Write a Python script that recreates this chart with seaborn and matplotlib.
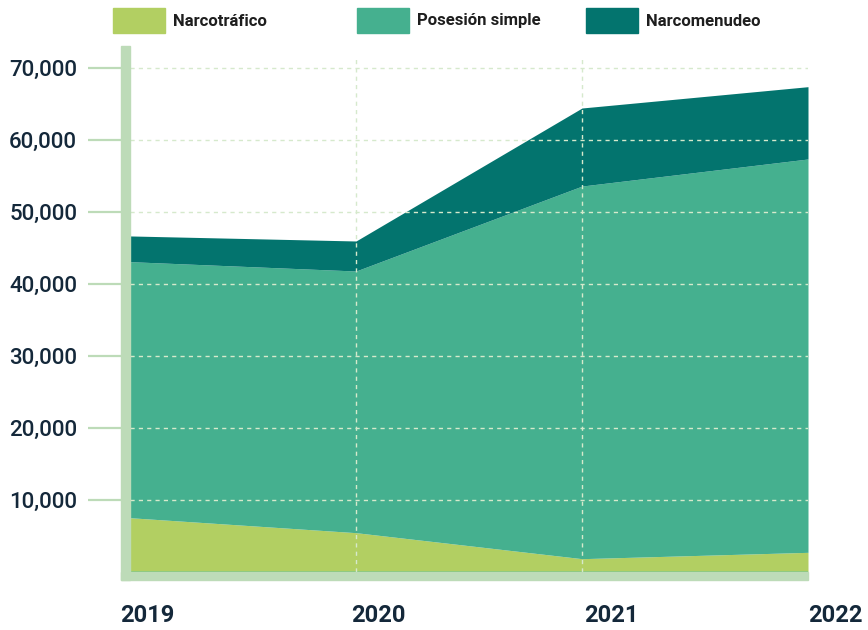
import matplotlib
matplotlib.use("Agg")
import matplotlib.pyplot as plt
from matplotlib.patches import Rectangle
import seaborn as sns
import pandas as pd

years = [2019, 2020, 2021, 2022]
narcotrafico = [7540, 5460, 1850, 2730]
posesion_simple = [35560, 36340, 51750, 54630]
narcomenudeo = [3570, 4170, 10840, 10040]
series_names = ["Narcotráfico", "Posesión simple", "Narcomenudeo"]
colors = ["#b2cf62", "#45b08f", "#03746e"]
y_ticks = [10000, 20000, 30000, 40000, 50000, 60000, 70000]

df = pd.DataFrame({"year": years, "Narcotráfico": narcotrafico,
                   "Posesión simple": posesion_simple, "Narcomenudeo": narcomenudeo})

sns.set_theme(style="white")
plt.rcParams["font.family"] = ["Roboto", "DejaVu Sans"]

W, H = 868, 630
fig = plt.figure(figsize=(W / 100, H / 100), dpi=100)
fig.patch.set_facecolor("white")

def fx(px):
    return px / W

def fy(py):
    return 1 - py / H

left, right, top, bottom = 130, 808, 46, 572
ax = fig.add_axes([fx(left), fy(bottom), fx(right - left), (bottom - top) / H])

ax.stackplot(df["year"], df["Narcotráfico"], df["Posesión simple"], df["Narcomenudeo"],
             colors=colors, linewidth=0, zorder=1)
# thin baseline
sns.lineplot(x=df["year"], y=[0] * len(years), ax=ax, color="#7cc47a", linewidth=1.2, zorder=2)

ax.set_xlim(2019, 2022)
ax.set_ylim(0, 73050)
ax.set_axisbelow(False)
ax.grid(True, axis="y", linestyle=(0, (3, 3)), color="#d6e9cc", linewidth=1.0, zorder=2.5)
for yv in years[1:3]:
    ax.plot([yv, yv], [0, 71300], linestyle=(0, (3, 3)), color="#d6e9cc", linewidth=1.0, zorder=2.5)
ax.set_xticks(years)
ax.set_yticks(y_ticks)
ax.set_yticklabels([f"{v:,}" for v in y_ticks])
ax.set_xticklabels([])
ax.tick_params(axis="y", length=30, width=1.6, color="#bddbb8", pad=8,
               labelsize=16, labelcolor="#14283a", left=True)
for lab in ax.get_yticklabels():
    lab.set_fontweight("medium")
ax.tick_params(axis="x", length=0)
for s in ax.spines.values():
    s.set_visible(False)
ax.set_xlabel("")
ax.set_ylabel("")

# thick spine bars
bar_c = "#bddbb8"
fig.patches.append(Rectangle((fx(121), fy(580)), fx(9), (580 - 46) / H,
                             transform=fig.transFigure, color=bar_c, zorder=5))
fig.patches.append(Rectangle((fx(121), fy(580)), fx(808 - 121), 8 / H,
                             transform=fig.transFigure, color=bar_c, zorder=5))

# x labels (left aligned at tick)
for yv, off in zip(years, [-10, -5, 2, 0]):
    xp = ax.transData.transform((yv, 0))[0]
    fig.text((xp + off) / W, fy(615), str(yv), ha="left", va="center",
             fontsize=17, fontweight="bold", color="#14283a")

# legend
leg_x = [113, 357, 586]
for x0, name, c in zip(leg_x, series_names, colors):
    fig.patches.append(Rectangle((fx(x0), fy(33)), fx(52), 25 / H,
                                 transform=fig.transFigure, color=c))
    fig.text(fx(x0 + 60), fy(21), name, ha="left", va="center",
             fontsize=12, fontweight="bold", color="#1e1e1e")

fig.savefig("out.png", dpi=100, facecolor="white")
